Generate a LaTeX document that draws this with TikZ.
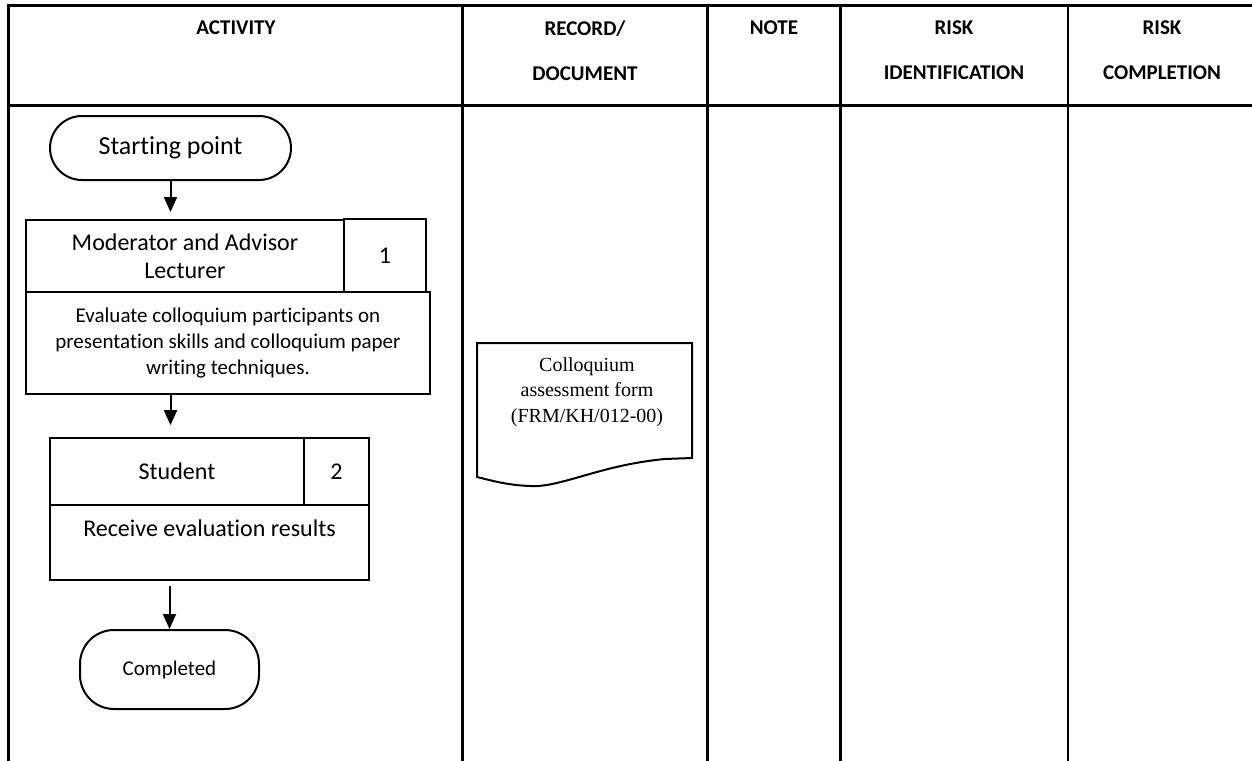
\documentclass[tikz,border=0pt]{standalone}
\usepackage{fontspec}
\setmainfont{Carlito}[Ligatures=NoCommon]
\newfontfamily\formfont{Liberation Serif}
\usetikzlibrary{positioning}
\usetikzlibrary{shapes,arrows.meta}
\tikzstyle{terminal} = [rectangle, draw, line width=1pt, rounded corners=16pt, inner sep=0pt]
\tikzstyle{block} = [rectangle, draw, fill=white, line width=1pt, align=center, inner sep=0pt]
\tikzstyle{number} = [block, font=\fontsize{12}{14}\selectfont]
\tikzstyle{head} = [anchor=north, align=center, inner sep=0pt, font=\bfseries\fontsize{10.5}{22.5}\selectfont]
\tikzstyle{grid} = [line width=1.2pt]
\tikzstyle{line} = [draw, line width=1pt, -{Triangle[width=6.5pt,length=7.5pt]}]

\begin{document}
\begin{tikzpicture}[x=0.5pt, y=-0.5pt]
        \useasboundingbox (0,0) rectangle (1252,760);
        \clip (0,0) rectangle (1252,760);
        % table
        \draw[grid] (8.5,770) -- (8.5,5.5) -- (1270,5.5);
        \draw[grid] (8.5,105.5) -- (1270,105.5);
        \foreach \x in {462.5, 707.5, 840.5, 1068, 1256}
            \draw[grid] (\x,5.5) -- (\x,770);
        % headers
        \node [head] (activity) at (236,20) {ACTIVITY};
        \node [head] (record) at (585,20) {RECORD/\\DOCUMENT};
        \node [head] (note) at (774,20) {NOTE};
        \node [head] (riskid) at (954,20) {RISK\\IDENTIFICATION};
        \node [head] (riskdone) at (1162,20) {RISK\\COMPLETION};
        % nodes
        \node [terminal, minimum width=120.5pt, minimum height=32pt, font=\fontsize{13}{15}\selectfont] (start) at (170.5,148) {Starting point};
        \node [block, minimum width=159pt, minimum height=36pt, font=\fontsize{12}{14}\selectfont] (act1) at (185,256) {Moderator and Advisor\\Lecturer};
        \node [number, minimum width=41pt, minimum height=36.5pt] (num1) at (385,255.5) {1};
        \node [block, minimum width=202pt, minimum height=51pt, font=\fontsize{10.5}{12.8}\selectfont] (eval) at (228,343) {Evaluate colloquium participants on\\presentation skills and colloquium paper\\writing techniques.};
        \node [block, minimum width=127pt, minimum height=33.7pt, font=\fontsize{12}{14}\selectfont] (act2) at (177,471.4) {Student};
        \node [number, minimum width=32.5pt, minimum height=33.7pt] (num2) at (336.5,471.4) {2};
        \node [block, minimum width=159.5pt, minimum height=37.5pt, font=\fontsize{12}{14}\selectfont] (recv) at (209.5,542.5) {Receive evaluation results\\~};
        \node [terminal, rounded corners=17pt, minimum width=89.5pt, minimum height=39.5pt, font=\fontsize{10.5}{12}\selectfont] (end) at (169.5,669.5) {Completed};
        % document
        \draw [line width=1pt] (477,343) -- (692,343) -- (692,458) -- (665,459)
            .. controls (600,465) and (560,488) .. (530,486)
            .. controls (505,485) and (490,480) .. (477,477) -- cycle;
        \node [align=center, inner sep=0pt, font=\formfont\fontsize{10}{12.8}\selectfont] (form) at (587,392) {Colloquium\\assessment form\\(FRM/KH/012-00)};
        % edges
        \path [line, shorten >=3.5pt] (start.south) -- (start.south |- act1.north);
        \path [line, shorten >=5.8pt] (eval.south -| start) -- (act2.north -| start);
        \path [line, shorten <=2.5pt] (recv.south -| end) -- (end.north);
    \end{tikzpicture}
\end{document}
